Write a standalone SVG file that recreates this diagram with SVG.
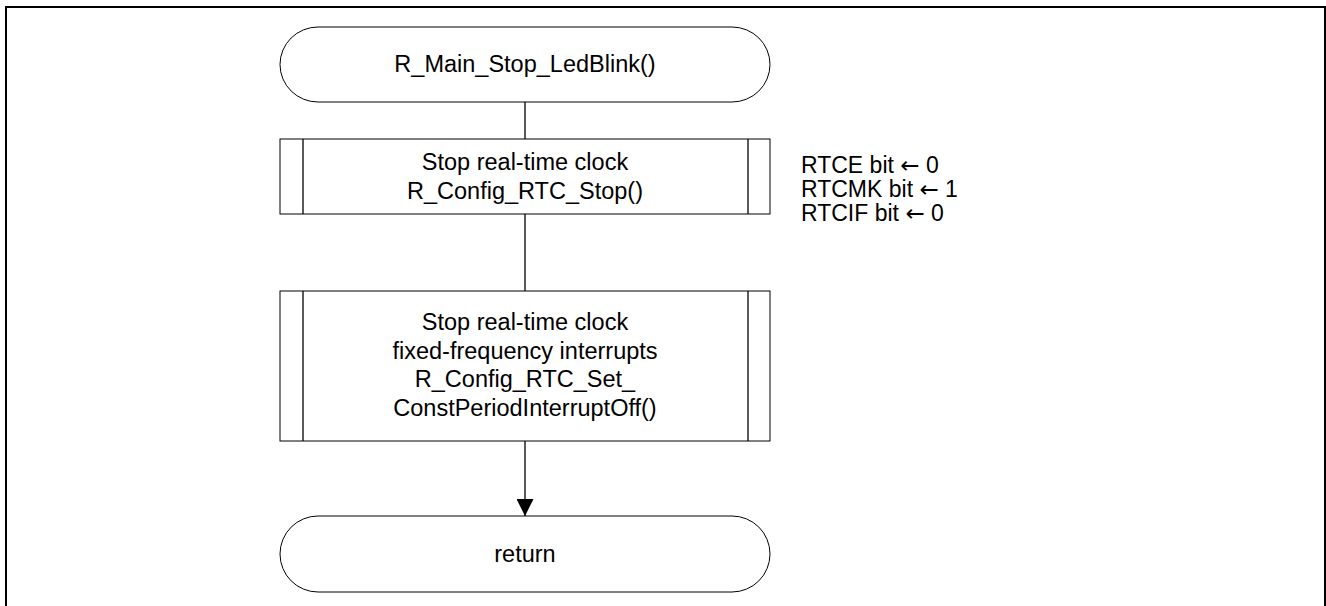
<svg xmlns="http://www.w3.org/2000/svg" width="1326" height="606" viewBox="0 0 1326 606">
<style>
text{font-family:"Liberation Sans",Arial,sans-serif;font-size:23.5px;fill:#000}
.c{text-anchor:middle}
.n{font-size:23px}
.a{font-family:"DejaVu Sans",sans-serif;font-size:23px}
.s{fill:#fff;stroke:#000;stroke-width:1}
.l{stroke:#000;stroke-width:1.3;fill:none}
</style>
<defs>
<marker id="ah" markerWidth="17" markerHeight="17" viewBox="0 0 17 17" refX="17" refY="8.5" orient="auto" markerUnits="userSpaceOnUse">
<path d="M0,0 L17,8.5 L0,17 Z" fill="#000"/>
</marker>
</defs>
<rect x="6" y="7" width="1319" height="620" fill="none" stroke="#000" stroke-width="2"/>
<g id="connectors">
<line class="l" x1="525" y1="102" x2="525" y2="139"/>
<line class="l" x1="525" y1="214" x2="525" y2="291"/>
<line class="l" x1="525" y1="441" x2="525" y2="516" marker-end="url(#ah)"/>
</g>
<g id="start">
<rect class="s" x="280" y="27" width="490" height="75" rx="38" ry="37.5"/>
<text class="c" x="525" y="72">R_Main_Stop_LedBlink()</text>
</g>
<g id="rtcStop">
<rect class="s" x="280" y="139" width="490" height="75"/>
<line class="l" x1="303" y1="139" x2="303" y2="214" stroke-width="1"/>
<line class="l" x1="748" y1="139" x2="748" y2="214" stroke-width="1"/>
<text class="c" x="525" y="170">Stop real-time clock</text>
<text class="c" x="525" y="199">R_Config_RTC_Stop()</text>
</g>
<g id="rtcNote">
<text class="n" x="801" y="173">RTCE bit <tspan class="a">←</tspan> 0</text>
<text class="n" x="801" y="197">RTCMK bit <tspan class="a">←</tspan> 1</text>
<text class="n" x="801" y="221">RTCIF bit <tspan class="a">←</tspan> 0</text>
</g>
<g id="intOff">
<rect class="s" x="280" y="291" width="490" height="150"/>
<line class="l" x1="303" y1="291" x2="303" y2="441" stroke-width="1"/>
<line class="l" x1="748" y1="291" x2="748" y2="441" stroke-width="1"/>
<text class="c" x="525" y="330">Stop real-time clock</text>
<text class="c" x="525" y="359">fixed-frequency interrupts</text>
<text class="c" x="525" y="387">R_Config_RTC_Set_</text>
<text class="c" x="525" y="416">ConstPeriodInterruptOff()</text>
</g>
<g id="end">
<rect class="s" x="280" y="516" width="490" height="76" rx="38" ry="38"/>
<text class="c" x="525" y="562">return</text>
</g>
</svg>
